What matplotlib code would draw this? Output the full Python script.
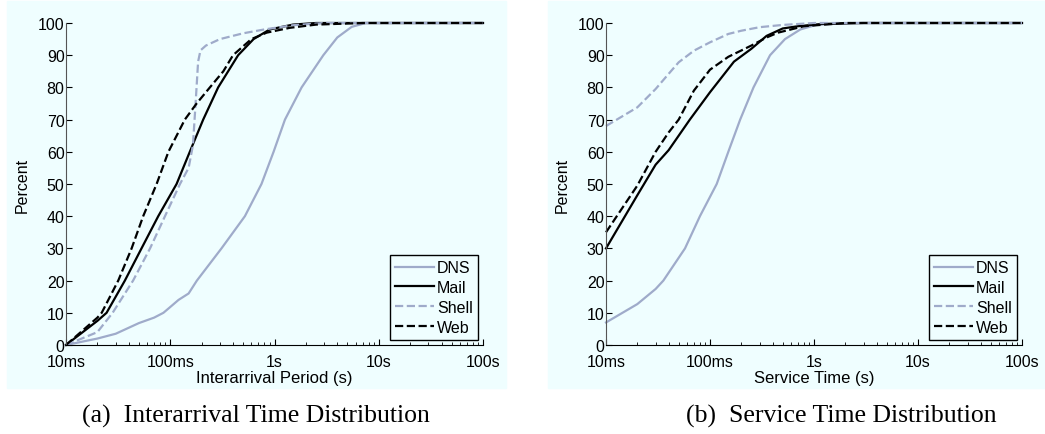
import matplotlib.pyplot as plt
from matplotlib.patches import Rectangle

plt.rcParams['font.family'] = ['Liberation Sans', 'DejaVu Sans']

# (a) interarrival period, seconds -> percent
dns_a_x = [0.01, 0.02, 0.03, 0.05, 0.07, 0.086, 0.1, 0.12, 0.15, 0.18, 0.31, 0.52, 0.75, 0.98, 1.26, 1.82, 2.94, 4.0, 5.5, 7.5, 100]
dns_a_y = [0, 2, 3.5, 6.8, 8.5, 10, 11.8, 14, 16, 20, 30, 40, 50, 60, 70, 80, 90, 95.5, 98.8, 100, 100]
mail_a_x = [0.01, 0.02, 0.0245, 0.0367, 0.053, 0.0767, 0.115, 0.154, 0.207, 0.288, 0.448, 0.63, 0.9, 1.5, 2.5, 100]
mail_a_y = [0, 7.5, 10, 20, 30, 40, 50, 60, 70, 80, 90, 95, 98, 99.5, 100, 100]
shell_a_x = [0.01, 0.02, 0.028, 0.044, 0.064, 0.089, 0.124, 0.15, 0.165, 0.175, 0.185, 0.195, 0.22, 0.3, 0.5, 0.8, 1.5, 3, 100]
shell_a_y = [0, 4, 10, 20, 30, 40, 50, 55, 62, 75, 88, 91.5, 93, 95, 96.8, 98, 99.3, 100, 100]
web_a_x = [0.01, 0.02, 0.022, 0.0317, 0.0426, 0.055, 0.074, 0.096, 0.138, 0.179, 0.24, 0.323, 0.4, 0.6, 0.84, 1.4, 2.5, 7, 100]
web_a_y = [0, 8.5, 10, 20, 30, 40, 50, 60, 70, 75, 80, 85, 90, 95, 97, 98.5, 99.5, 100, 100]

# (b) service time, seconds -> percent
dns_b_x = [0.01, 0.02, 0.03, 0.0356, 0.0575, 0.08, 0.116, 0.15, 0.195, 0.262, 0.378, 0.526, 0.74, 1.07, 2.4, 100]
dns_b_y = [7, 12.7, 17.4, 20, 30, 40, 50, 60, 70, 80, 90, 95, 98, 99.5, 100, 100]
mail_b_x = [0.01, 0.02, 0.03, 0.04, 0.064, 0.1, 0.17, 0.25, 0.35, 0.5, 0.7, 1.2, 3, 100]
mail_b_y = [30, 46.5, 56, 60.5, 70, 78.5, 88, 92, 96, 98.3, 99, 99.7, 100, 100]
shell_b_x = [0.01, 0.02, 0.03, 0.04, 0.05, 0.07, 0.1, 0.15, 0.2, 0.3, 0.5, 1, 100]
shell_b_y = [68, 73.8, 79.5, 84.2, 87.8, 91.4, 94, 96.6, 97.6, 98.7, 99.4, 100, 100]
web_b_x = [0.01, 0.02, 0.03, 0.04, 0.05, 0.07, 0.1, 0.15, 0.25, 0.35, 0.45, 0.8, 2, 100]
web_b_y = [35, 49.5, 60, 66, 70, 79, 85.5, 89.5, 93, 95.5, 97, 99, 100, 100]

tick_pos = [0.01, 0.1, 1, 10, 100]
tick_lab = ['10ms', '100ms', '1s', '10s', '100s']
grey = '#9fabca'

fig = plt.figure(figsize=(10.45, 4.35), dpi=100)
# light cyan panels behind each plot
for x0, x1 in [(7, 506), (548, 1045)]:
    fig.patches.append(Rectangle((x0 / 1045, 1 - 389 / 435), (x1 - x0) / 1045, 387 / 435,
                                 transform=fig.transFigure, color='#effeff', zorder=-1))


def panel(ax, data, xlabel):
    (dx, dy), (mx, my), (sx, sy), (wx, wy) = data
    ax.plot(dx, dy, color=grey, lw=1.6, label='DNS', clip_on=False)
    ax.plot(mx, my, color='black', lw=1.6, label='Mail', clip_on=False)
    ax.plot(sx, sy, color=grey, lw=1.6, ls='--', label='Shell', clip_on=False)
    ax.plot(wx, wy, color='black', lw=1.6, ls='--', label='Web', clip_on=False)
    ax.set_xscale('log')
    ax.set_xlim(0.01, 100)
    ax.set_ylim(0, 100)
    ax.set_xticks(tick_pos)
    ax.set_xticklabels(tick_lab)
    ax.set_yticks(range(0, 101, 10))
    ax.patch.set_alpha(0)
    for s in ['top', 'right']:
        ax.spines[s].set_visible(False)
    ax.spines['left'].set_color('#555555')
    ax.tick_params(direction='in', labelsize=11.5, length=4)
    ax.tick_params(axis='y', pad=1)
    ax.tick_params(axis='x', pad=6.5)
    ax.tick_params(which='minor', direction='in', length=2.5)
    ax.set_xlabel(xlabel, fontsize=12, labelpad=0.5)
    ax.set_ylabel('Percent', fontsize=11.5, labelpad=6)
    leg = ax.legend(loc='lower right', fontsize=11.5, fancybox=False, framealpha=1,
                    edgecolor='black', borderaxespad=0.3, handlelength=2.4,
                    handletextpad=0.2, labelspacing=0.3, borderpad=0.35)
    leg.get_frame().set_facecolor('#effeff')
    leg.get_frame().set_linewidth(1.0)


ax1 = fig.add_axes([66 / 1045, 1 - 346 / 435, 417 / 1045, 322 / 435])
panel(ax1, [(dns_a_x, dns_a_y), (mail_a_x, mail_a_y), (shell_a_x, shell_a_y), (web_a_x, web_a_y)],
      'Interarrival Period (s)')
ax2 = fig.add_axes([606 / 1045, 1 - 346 / 435, 416 / 1045, 322 / 435])
panel(ax2, [(dns_b_x, dns_b_y), (mail_b_x, mail_b_y), (shell_b_x, shell_b_y), (web_b_x, web_b_y)],
      'Service Time (s)')

fig.text(256 / 1045, 1 - 416 / 435, '(a)  Interarrival Time Distribution', family='Liberation Serif',
         fontsize=18.5, ha='center', va='center')
fig.text(841 / 1045, 1 - 416 / 435, '(b)  Service Time Distribution', family='Liberation Serif',
         fontsize=18.5, ha='center', va='center')

fig.savefig('out.png', dpi=100)
